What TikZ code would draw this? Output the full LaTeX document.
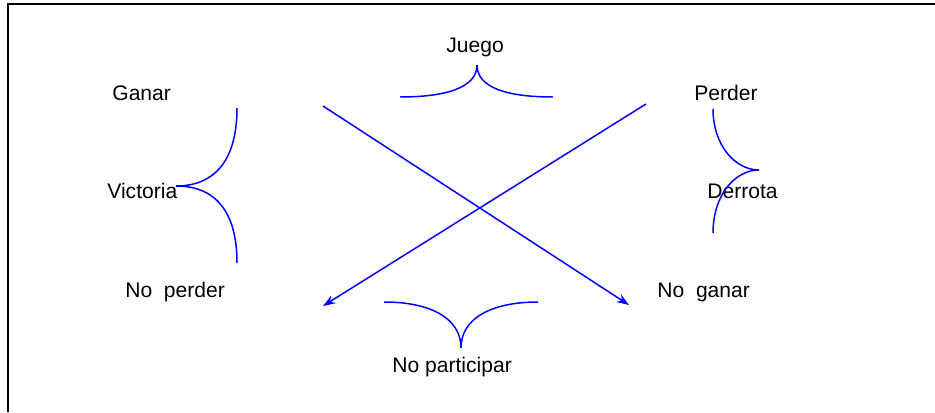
\documentclass[tikz,border=0pt]{standalone}
\usepackage{fontspec}
\setmainfont{Liberation Sans}
\usetikzlibrary{arrows.meta}

\begin{document}
\begin{tikzpicture}[x=0.02cm, y=-0.02cm,
    term/.style={inner sep=0pt, anchor=base west, font=\fontsize{12}{14}\selectfont},
    brace/.style={blue, line width=0.85pt},
    opposite/.style={blue, line width=0.85pt, -{Stealth[length=7pt, width=5pt]}},
    frame line/.style={black, line width=1.2pt}]

  \useasboundingbox (0,0) rectangle (935,412);

  % === Frame (only top and left edges show) ===
  \draw[frame line] (935,4) -- (8,4) -- (8,412);

  % === Terms of the square ===
  \node[term] (juego) at (446,52) {Juego};
  \node[term] (ganar) at (112,100) {Ganar};
  \node[term] (perder) at (694,100) {Perder};
  \node[term] (victoria) at (107,198) {Victoria};
  \node[term] (derrota) at (707,198) {Derrota};
  \node[term] (noperder) at (125,297) {No\ \ perder};
  \node[term] (noganar) at (657,297) {No\ \ ganar};
  \node[term] (noparticipar) at (392,372) {No participar};

  % === Braces ===
  % Juego: opens downwards
  \coordinate (jl) at (400,97);
  \coordinate (jt) at (477,65);
  \coordinate (jr) at (553,97);
  \draw[brace] (jl) .. controls (445,97) and (477,88) .. (jt)
    .. controls (477,88) and (508,97) .. (jr);

  % Victoria: opens to the right
  \coordinate (vu) at (237,108);
  \coordinate (vt) at (176,186);
  \coordinate (vd) at (237,263);
  \draw[brace] (vu) .. controls (237,160) and (215,186) .. (vt)
    .. controls (215,186) and (237,211) .. (vd);

  % Derrota: opens to the left
  \coordinate (du) at (713,109);
  \coordinate (dt) at (759,170);
  \coordinate (dd) at (713,233);
  \draw[brace] (du) .. controls (713,145) and (735,170) .. (dt)
    .. controls (735,170) and (713,195) .. (dd);

  % No participar: opens upwards
  \coordinate (pl) at (384,302);
  \coordinate (pt) at (461,348);
  \coordinate (pr) at (538,302);
  \draw[brace] (pl) .. controls (430,302) and (461,318) .. (pt)
    .. controls (461,318) and (492,302) .. (pr);

  % === Diagonals ===
  \coordinate (ganar end) at (323,106);
  \coordinate (noganar end) at (629,305);
  \coordinate (perder end) at (646,104);
  \coordinate (noperder end) at (323,306);
  \draw[opposite] (ganar end) -- (noganar end);
  \draw[opposite] (perder end) -- (noperder end);

\end{tikzpicture}
\end{document}
